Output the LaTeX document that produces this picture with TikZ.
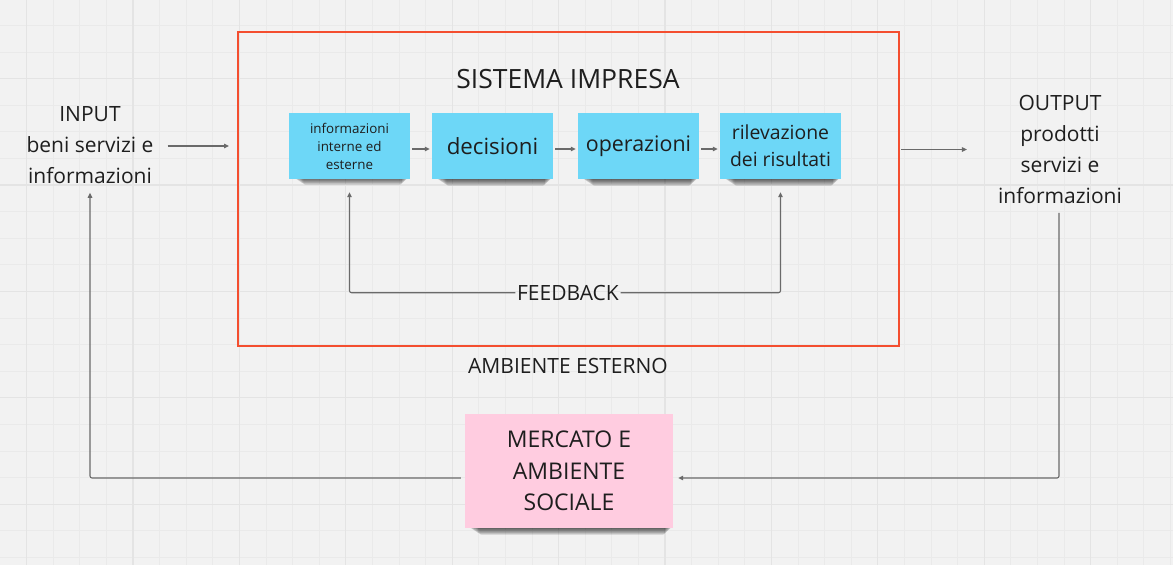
\documentclass[tikz,border=0pt]{standalone}
\usepackage{fontspec}
\setmainfont{Open Sans}
\usetikzlibrary{arrows.meta}
\definecolor{bgcol}{HTML}{F2F2F2}
\definecolor{gridminor}{HTML}{EAEAEA}
\definecolor{gridmajor}{HTML}{E4E4E4}
\definecolor{framecol}{HTML}{F44E2F}
\definecolor{notecol}{HTML}{6DD7F7}
\definecolor{pinkcol}{HTML}{FFCCE0}
\definecolor{conncol}{HTML}{6A6A6A}
\definecolor{inkcol}{HTML}{1E1E1E}
\newcommand{\myshadow}[3]{%
  \foreach \k in {1,...,8} {\fill[black,opacity=0.1,rounded corners=2pt] (#1+4+\k*1.3,#3-5) rectangle (#2-1-\k*0.9,#3+\k*0.85);}%
}
\begin{document}
\begin{tikzpicture}[x=1pt,y=-1pt,
  conn/.style={draw=conncol, line width=1.1pt, -{Triangle[length=5pt,width=4.5pt]}},
  txt/.style={text=inkcol, align=center, inner sep=0pt},
  lbl/.style={txt, font=\fontsize{21}{31}\selectfont},
  bluenote/.style={fill=notecol, txt, minimum width=121pt, minimum height=66pt},
  pinknote/.style={fill=pinkcol, txt, minimum width=208pt, minimum height=114pt, font=\fontsize{23}{31.5}\selectfont},
]
\useasboundingbox (0,0) rectangle (1173,565);
\fill[bgcol] (0,0) rectangle (1173,565);
% grid
\foreach \k in {1,...,44} \draw[gridminor, line width=1pt] (\k*26.6,0) -- (\k*26.6,565);
\foreach \j in {0,...,20} \draw[gridminor, line width=1pt] (0,25.4+\j*26.6) -- (1173,25.4+\j*26.6);
\foreach \k in {1,5,...,41} \draw[gridmajor, line width=1.1pt] (\k*26.6,0) -- (\k*26.6,565);
\foreach \j in {2,6,...,18} \draw[gridmajor, line width=1.1pt] (0,25.4+\j*26.6) -- (1173,25.4+\j*26.6);

% frame
\node[draw=framecol, line width=2pt, minimum width=661pt, minimum height=314pt, inner sep=0pt] (sys) at (568.5,189) {};
\node[txt, font=\fontsize{26.5}{32}\selectfont] (title) at (568,79.3) {SISTEMA IMPRESA};

% shadows
\myshadow{289}{410}{178}
\myshadow{432}{553}{179}
\myshadow{578}{699}{179}
\myshadow{720}{841}{179}
\myshadow{465}{673}{528}

% notes
\node[bluenote, font=\fontsize{13.4}{18}\selectfont] (n1) at (349.5,146) {informazioni\\interne ed\\esterne};
\node[bluenote, font=\fontsize{22.3}{27}\selectfont] (n2) at (492.5,146) {decisioni};
\node[bluenote, font=\fontsize{21.4}{27}\selectfont] (n3) at (638.5,146) {operazioni};
\node[bluenote, font=\fontsize{19.4}{27}\selectfont] (n4) at (780.5,146) {rilevazione\\dei risultati};
\node[pinknote] (pink) at (569,471) {MERCATO E\\AMBIENTE\\SOCIALE};

% labels
\node[lbl] (inp) at (90,145) {INPUT\\beni servizi e\\informazioni};
\node[lbl] (out) at (1060,149.5) {OUTPUT\\prodotti\\servizi e\\informazioni};
\node[lbl] (amb) at (568,365.5) {AMBIENTE ESTERNO};
\node[lbl] (fb) at (568,293.3) {FEEDBACK};

% connectors
\draw[conn, shorten <=2pt, shorten >=2pt] ([yshift=-3pt]n1.east) -- ([yshift=-3pt]n2.west);
\draw[conn, shorten <=2pt, shorten >=2pt] ([yshift=-3pt]n2.east) -- ([yshift=-3pt]n3.west);
\draw[conn, shorten <=2pt, shorten >=2pt] ([yshift=-3pt]n3.east) -- ([yshift=-3pt]n4.west);
\draw[conn, shorten <=14pt, shorten >=8pt] ([yshift=-1pt]inp.east) -- ([yshift=-1pt]inp.east -| sys.west);
\draw[conn, shorten <=1pt, shorten >=31pt] (sys.east |- out.west) -- (out.west);
\draw[conn, rounded corners=2pt, shorten <=1.5pt, shorten >=13pt] ([yshift=0.6pt]fb.west) -| (n1.south);
\draw[conn, rounded corners=2pt, shorten <=1.5pt, shorten >=13pt] ([yshift=0.6pt]fb.east) -| (n4.south);
\draw[conn, rounded corners=2pt, shorten <=9pt, shorten >=5pt] ([xshift=-1pt]out.south) |- ([yshift=-7pt]pink.east);
\draw[conn, rounded corners=2pt, shorten <=4pt, shorten >=9pt] ([yshift=-7pt]pink.west) -| (inp.south);
\end{tikzpicture}
\end{document}
